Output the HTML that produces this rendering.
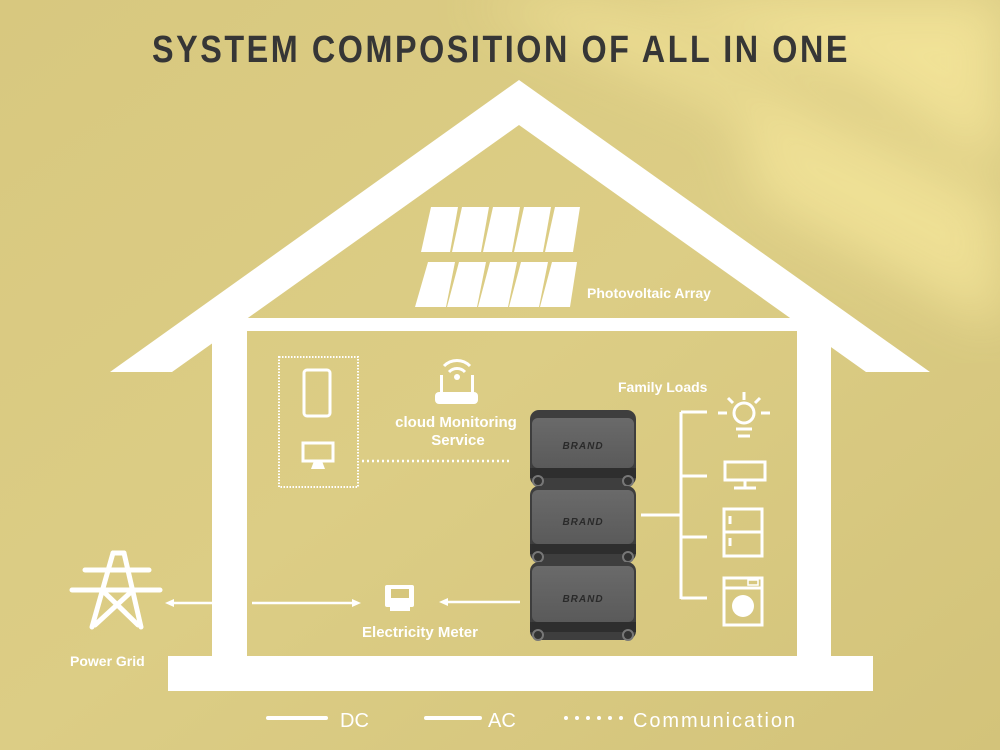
<!DOCTYPE html>
<html><head><meta charset="utf-8"><style>
html,body{margin:0;padding:0;width:1000px;height:750px;overflow:hidden}
svg{display:block}
text{font-family:"Liberation Sans",sans-serif}
</style></head><body>
<svg width="1000" height="750" viewBox="0 0 1000 750" xmlns="http://www.w3.org/2000/svg">
<defs>
<linearGradient id="bg" x1="0" y1="0" x2="1" y2="1">
<stop offset="0" stop-color="#d8c87f"/><stop offset="0.5" stop-color="#dccd85"/><stop offset="1" stop-color="#d3c37a"/>
</linearGradient>
<linearGradient id="bat" x1="0" y1="0" x2="0" y2="1">
<stop offset="0" stop-color="#6a6a6a"/><stop offset="1" stop-color="#5a5a5a"/>
</linearGradient>
<filter id="bl"><feGaussianBlur stdDeviation="25"/></filter>
</defs>
<rect width="1000" height="750" fill="url(#bg)"/>
<g filter="url(#bl)" opacity="0.85">
<polygon points="620,0 1000,0 1000,170 860,80" fill="#f4e59a"/>
<polygon points="720,60 1000,200 1000,330 760,200" fill="#f2e398"/>
<polygon points="470,0 600,0 880,140 820,150" fill="#efe095"/>
</g>
<text x="501" y="62" text-anchor="middle" font-size="38" font-weight="bold" fill="#363636" textLength="698" lengthAdjust="spacingAndGlyphs" letter-spacing="3">SYSTEM COMPOSITION OF ALL IN ONE</text>

<g fill="#fff">
<polygon points="110,372 519,80 930,372 866,372 519,125 172,372"/>
<rect x="245" y="318" width="552" height="13"/>
<rect x="212" y="318" width="35" height="340"/>
<rect x="797" y="318" width="34" height="340"/>
<rect x="168" y="656" width="705" height="35"/>
</g>

<g fill="#fff">
<polygon points="431,207 458,207 450,252 421,252"/>
<polygon points="462,207 489,207 481,252 452,252"/>
<polygon points="493,207 520,207 512,252 483,252"/>
<polygon points="524,207 551,207 543,252 514,252"/>
<polygon points="555,207 580,207 573,252 545,252"/>
<polygon points="428,262 455,262 446,307 415,307"/>
<polygon points="459,262 486,262 477,307 447,307"/>
<polygon points="490,262 517,262 508,307 478,307"/>
<polygon points="521,262 548,262 539,307 509,307"/>
<polygon points="552,262 577,262 570,307 540,307"/>
</g>
<text x="587" y="298" font-size="14" font-weight="bold" fill="#fff">Photovoltaic Array</text>

<rect x="279" y="357" width="79" height="130" fill="none" stroke="#fff" stroke-width="2" stroke-dasharray="1.5 1.5"/>
<rect x="304" y="370" width="26" height="46" rx="3" fill="none" stroke="#fff" stroke-width="3"/>
<rect x="303" y="443" width="30" height="18" fill="none" stroke="#fff" stroke-width="3"/>
<polygon points="314,461 322,461 325,469 311,469" fill="#fff"/>
<line x1="362" y1="461" x2="510" y2="461" stroke="#fff" stroke-width="2.5" stroke-dasharray="2 3"/>
<rect x="435" y="392" width="43" height="12" rx="4" fill="#fff"/>
<rect x="440" y="375" width="3" height="18" fill="#fff"/>
<rect x="471" y="375" width="3" height="18" fill="#fff"/>
<circle cx="457" cy="377" r="3" fill="#fff"/>
<path d="M449,372 a11,11 0 0 1 16,0 M444,366 a18,18 0 0 1 26,0" fill="none" stroke="#fff" stroke-width="3"/>
<text x="456" y="427" text-anchor="middle" font-size="15" font-weight="bold" fill="#fff">cloud Monitoring</text>
<text x="458" y="445" text-anchor="middle" font-size="15" font-weight="bold" fill="#fff">Service</text>

<g>
<g transform="translate(530,410)">
<rect x="0" y="0" width="106" height="76" rx="9" fill="#3e3e3e"/>
<rect x="2" y="8" width="102" height="50" rx="6" fill="url(#bat)"/>
<rect x="0" y="58" width="106" height="10" fill="#2e2e2e"/>
<circle cx="8" cy="71" r="5" fill="#333" stroke="#777" stroke-width="2"/><circle cx="98" cy="71" r="5" fill="#333" stroke="#777" stroke-width="2"/>
<text x="53" y="39" text-anchor="middle" font-size="10" font-weight="bold" font-style="italic" fill="#2a2a2a" letter-spacing="1">BRAND</text>
</g>
<g transform="translate(530,486)">
<rect x="0" y="0" width="106" height="76" rx="9" fill="#3e3e3e"/>
<rect x="2" y="4" width="102" height="54" rx="6" fill="url(#bat)"/>
<rect x="0" y="58" width="106" height="10" fill="#2e2e2e"/>
<circle cx="8" cy="71" r="5" fill="#333" stroke="#777" stroke-width="2"/><circle cx="98" cy="71" r="5" fill="#333" stroke="#777" stroke-width="2"/>
<text x="53" y="39" text-anchor="middle" font-size="10" font-weight="bold" font-style="italic" fill="#2a2a2a" letter-spacing="1">BRAND</text>
</g>
<g transform="translate(530,562)">
<rect x="0" y="0" width="106" height="78" rx="9" fill="#3e3e3e"/>
<rect x="2" y="4" width="102" height="56" rx="6" fill="url(#bat)"/>
<rect x="0" y="60" width="106" height="10" fill="#2e2e2e"/>
<circle cx="8" cy="73" r="5" fill="#333" stroke="#777" stroke-width="2"/><circle cx="98" cy="73" r="5" fill="#333" stroke="#777" stroke-width="2"/>
<text x="53" y="40" text-anchor="middle" font-size="10" font-weight="bold" font-style="italic" fill="#2a2a2a" letter-spacing="1">BRAND</text>
</g>
</g>

<text x="618" y="392" font-size="14" font-weight="bold" fill="#fff">Family Loads</text>
<g stroke="#fff" stroke-width="3" fill="none">
<line x1="641" y1="515" x2="681" y2="515"/>
<line x1="681" y1="412" x2="681" y2="599"/>
<line x1="681" y1="412" x2="707" y2="412"/>
<line x1="681" y1="476" x2="707" y2="476"/>
<line x1="681" y1="537" x2="707" y2="537"/>
<line x1="681" y1="598" x2="707" y2="598"/>
<circle cx="744" cy="413" r="10"/>
<line x1="736" y1="429" x2="752" y2="429"/><line x1="738" y1="436" x2="750" y2="436"/>
<line x1="718" y1="413" x2="727" y2="413"/><line x1="761" y1="413" x2="770" y2="413"/>
<line x1="744" y1="392" x2="744" y2="400"/>
<line x1="728" y1="398" x2="733" y2="403"/><line x1="760" y1="398" x2="755" y2="403"/>
<rect x="725" y="462" width="40" height="18"/>
<line x1="745" y1="480" x2="745" y2="487"/><line x1="734" y1="488" x2="756" y2="488"/>
<rect x="724" y="509" width="38" height="47"/>
<line x1="724" y1="532" x2="762" y2="532"/>
<line x1="730" y1="516" x2="730" y2="524"/><line x1="730" y1="538" x2="730" y2="546"/>
<rect x="724" y="578" width="38" height="47"/>
<line x1="724" y1="588" x2="762" y2="588"/>
<rect x="748" y="580" width="10" height="5" stroke-width="1.5"/>
</g>
<circle cx="743" cy="606" r="11" fill="#fff"/>

<g stroke="#fff" stroke-width="5" stroke-linecap="round" fill="none">
<line x1="85" y1="570" x2="149" y2="570"/>
<line x1="72" y1="590" x2="160" y2="590"/>
<line x1="113" y1="553" x2="124" y2="553"/>
<line x1="113" y1="553" x2="92" y2="627"/>
<line x1="124" y1="553" x2="141" y2="627"/>
<line x1="104" y1="592" x2="138" y2="625"/>
<line x1="131" y1="592" x2="95" y2="625"/>
</g>
<text x="70" y="666" font-size="14" font-weight="bold" fill="#fff">Power Grid</text>

<g stroke="#fff" stroke-width="2.5">
<line x1="170" y1="603" x2="212" y2="603"/>
<line x1="252" y1="603" x2="355" y2="603"/>
<line x1="445" y1="602" x2="520" y2="602"/>
</g>
<polygon points="165,603 174,599 174,607" fill="#fff"/>
<polygon points="361,603 352,599 352,607" fill="#fff"/>
<polygon points="439,602 448,598 448,606" fill="#fff"/>
<rect x="385" y="585" width="29" height="22" rx="2" fill="#fff"/>
<rect x="391" y="589" width="18" height="9" fill="#d6c67c"/>
<rect x="390" y="607" width="20" height="4" fill="#fff"/>
<text x="420" y="637" text-anchor="middle" font-size="15" font-weight="bold" fill="#fff">Electricity Meter</text>

<rect x="266" y="716" width="62" height="4" rx="2" fill="#fff"/>
<text x="340" y="727" font-size="20" fill="#fff">DC</text>
<rect x="424" y="716" width="58" height="4" rx="2" fill="#fff"/>
<text x="488" y="727" font-size="20" fill="#fff">AC</text>
<g fill="#fff"><circle cx="566" cy="718" r="2"/><circle cx="577" cy="718" r="2"/><circle cx="588" cy="718" r="2"/><circle cx="599" cy="718" r="2"/><circle cx="610" cy="718" r="2"/><circle cx="621" cy="718" r="2"/></g>
<text x="633" y="727" font-size="20" fill="#fff" textLength="162">Communication</text>
</svg>
</body></html>
